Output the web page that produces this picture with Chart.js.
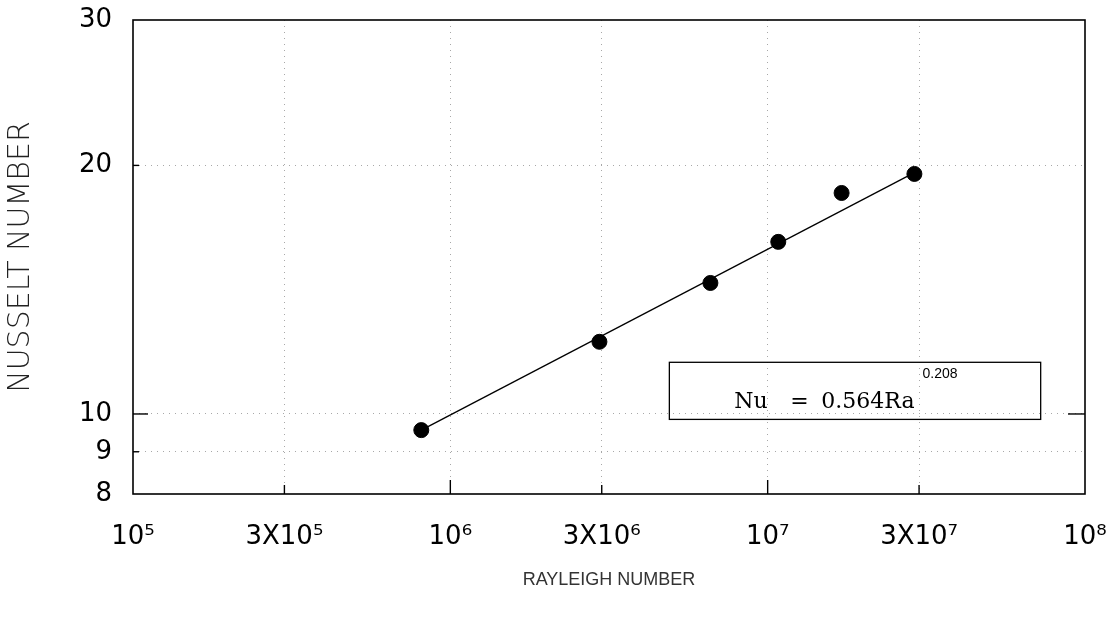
<!DOCTYPE html>
<html><head><meta charset="utf-8">
<script src="https://cdn.jsdelivr.net/npm/chart.js@4/dist/chart.umd.min.js"></script>
<style>html,body{margin:0;padding:0;background:#fff}#wrap{width:1114px;height:620px}</style>
</head><body><div id="wrap"><canvas id="c" width="1114" height="620"></canvas></div>
<script>
// ---- data ----
const rayleigh = [8.1e5, 2.95e6, 6.6e6, 1.08e7, 1.71e7, 2.9e7];
const nusselt = [9.56, 12.23, 14.41, 16.16, 18.52, 19.53];
const fitRayleigh = [8.1e5, 2.9e7];
const fitNusselt = [9.56, 19.6];
const xTickValues = [1e5, 3e5, 1e6, 3e6, 1e7, 3e7, 1e8];
const xTickLabels = ['10⁵', '3X10⁵', '10⁶', '3X10⁶', '10⁷', '3X10⁷', '10⁸'];
const yTickValues = [8, 9, 10, 20, 30];
const yTickLabels = ['8', '9', '10', '20', '30'];
const equationParts = ['Nu', '=', '0.564Ra'];
const equationExponent = '0.208';
const equationBoxRa = [4.9e6, 7.25e7];
const equationBoxNu = [11.55, 9.85];

const framePlugin = {
  id: 'frame',
  afterDraw(chart) {
    const { ctx, chartArea: a, scales } = chart;
    ctx.save();
    ctx.strokeStyle = '#000';
    ctx.lineWidth = 1.6;
    ctx.strokeRect(a.left, a.top, a.right - a.left, a.bottom - a.top);
    // inner tick marks
    ctx.lineWidth = 1.4;
    xTickValues.forEach((v, i) => {
      if (i === 0 || i === xTickValues.length - 1) return;
      const px = scales.x.getPixelForValue(v);
      const len = Math.abs(Math.log10(v) - Math.round(Math.log10(v))) < 1e-9 ? 14 : 9;
      ctx.beginPath(); ctx.moveTo(px, a.bottom); ctx.lineTo(px, a.bottom - len); ctx.stroke();
    });
    yTickValues.forEach((v, i) => {
      if (i === 0 || i === yTickValues.length - 1) return;
      const py = scales.y.getPixelForValue(v);
      const len = v === 10 ? 15 : 6;
      ctx.beginPath(); ctx.moveTo(a.left, py); ctx.lineTo(a.left + len, py); ctx.stroke();
      if (v === 10) { ctx.beginPath(); ctx.moveTo(a.right, py); ctx.lineTo(a.right - 17, py); ctx.stroke(); }
    });
    // equation box (transparent, grid shows through)
    const x0 = scales.x.getPixelForValue(equationBoxRa[0]);
    const x1 = scales.x.getPixelForValue(equationBoxRa[1]);
    const y0 = scales.y.getPixelForValue(equationBoxNu[0]);
    const y1 = scales.y.getPixelForValue(equationBoxNu[1]);
    ctx.lineWidth = 1.3;
    ctx.strokeRect(x0, y0, x1 - x0, y1 - y0);
    ctx.fillStyle = '#000';
    ctx.textBaseline = 'alphabetic';
    ctx.font = '22px "DejaVu Serif"';
    const baseY = y1 - 11;
    ctx.fillText(equationParts[0], x0 + 65, baseY);
    ctx.fillText(equationParts[1], x0 + 121, baseY);
    ctx.fillText(equationParts[2], x0 + 152, baseY);
    const wRa = ctx.measureText(equationParts[2]).width;
    ctx.font = '14px "Liberation Sans"';
    ctx.fillText(equationExponent, x0 + 152 + wRa + 8, y0 + 16);
    ctx.restore();
  }
};

const gridColor = (ctx, n) => (ctx.index === 0 || ctx.index === n - 1) ? 'rgba(0,0,0,0)' : '#a8a8a8';

new Chart(document.getElementById('c'), {
  type: 'scatter',
  data: {
    datasets: [
      {
        type: 'line',
        data: fitRayleigh.map((x, i) => ({ x, y: fitNusselt[i] })),
        borderColor: '#000', borderWidth: 1.3, pointRadius: 0, fill: false, order: 2
      },
      {
        type: 'scatter',
        data: rayleigh.map((x, i) => ({ x, y: nusselt[i] })),
        backgroundColor: '#000', borderColor: '#000', pointRadius: 7.5, pointHoverRadius: 7.5, order: 1
      }
    ]
  },
  options: {
    responsive: false, animation: false, events: [],
    layout: { padding: { left: 0, top: 20, right: 29, bottom: 0 } },
    plugins: { legend: { display: false }, tooltip: { enabled: false } },
    scales: {
      x: {
        type: 'logarithmic', min: 1e5, max: 1e8,
        afterBuildTicks: s => { s.ticks = xTickValues.map(v => ({ value: v })); },
        afterFit: s => { s.height = 126; s.paddingLeft = 0; s.paddingRight = 0; },
        ticks: {
          autoSkip: false, maxRotation: 0, minRotation: 0, padding: 28, color: '#000',
          font: { family: 'DejaVu Sans', size: 26 },
          callback: v => xTickLabels[xTickValues.indexOf(v)]
        },
        grid: { color: c => gridColor(c, xTickValues.length), lineWidth: 1, drawTicks: false },
        border: { display: false, dash: [1, 5] },
        title: { display: true, text: 'RAYLEIGH NUMBER', color: '#333', font: { family: 'Liberation Sans', size: 18 }, padding: { top: 0, bottom: 29 } }
      },
      y: {
        type: 'logarithmic', min: 8, max: 30,
        afterBuildTicks: s => { s.ticks = yTickValues.map(v => ({ value: v })); },
        afterFit: s => { s.width = 133; s.paddingTop = 0; s.paddingBottom = 0; },
        ticks: {
          autoSkip: false, padding: 21, color: '#000',
          font: { family: 'DejaVu Sans', size: 26 },
          callback: v => yTickLabels[yTickValues.indexOf(v)]
        },
        grid: { color: c => gridColor(c, yTickValues.length), lineWidth: 1, drawTicks: false },
        border: { display: false, dash: [1, 5] },
        title: { display: true, text: 'NUSSELT NUMBER', color: '#222', font: { family: 'DejaVu Sans', size: 30, weight: 300 }, padding: { top: 3, bottom: 0 } }
      }
    }
  },
  plugins: [framePlugin]
});
</script>
</body></html>
